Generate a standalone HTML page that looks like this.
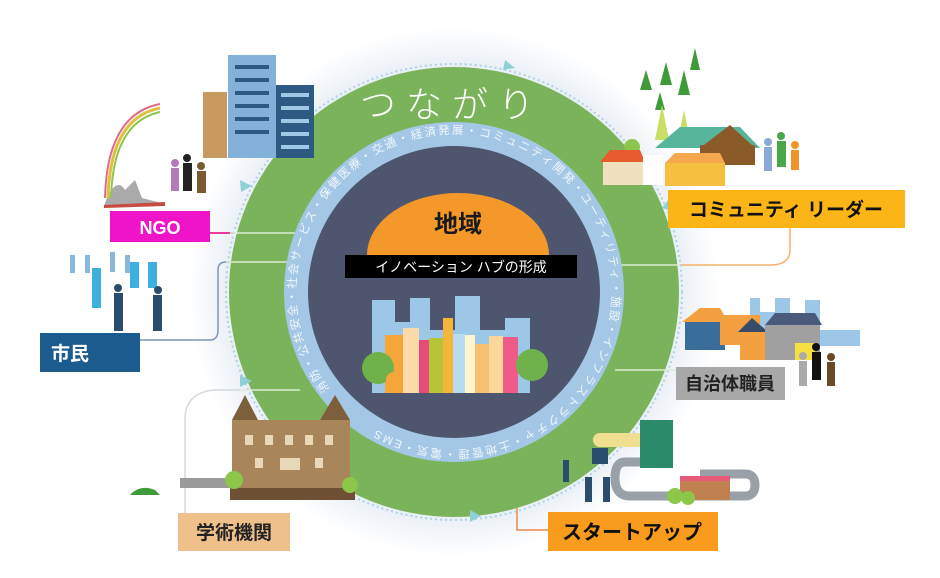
<!DOCTYPE html>
<html><head><meta charset="utf-8"><style>
html,body{margin:0;padding:0;background:#fff;}
svg{display:block;}
.jp{font-family:"Liberation Sans","Noto Sans CJK JP",sans-serif;}
</style></head><body>
<svg width="940" height="578" viewBox="0 0 940 578" xmlns="http://www.w3.org/2000/svg" class="jp">
<defs>
<radialGradient id="glow" cx="454" cy="292" r="265" gradientUnits="userSpaceOnUse">
<stop offset="0.8" stop-color="#e3eaf3"/><stop offset="1" stop-color="#ffffff"/>
</radialGradient>
<path id="ring" d="M329.5,389.3 A158,158 0 1,1 578.5,194.7 A158,158 0 1,1 329.5,389.3" fill="none"/>
</defs>
<rect width="940" height="578" fill="#fff"/>
<circle cx="454" cy="292" r="265" fill="url(#glow)"/>
<!-- connectors -->
<g fill="none" stroke-width="1.5">
<path d="M210 233 H235" stroke="#e6007e"/>
<path d="M140 340 H210 Q218 340 218 330 V270 Q218 262 226 262 H240" stroke="#7f95b5"/>
<path d="M185 513 V420 Q185 392 215 390 H240" stroke="#d4dade"/>
<path d="M790 228 V250 Q790 265 770 265 H680" stroke="#f4b26a"/>
<path d="M517 450 V530 H548" stroke="#e98a4a"/>
</g>
<!-- green circle -->
<circle cx="454" cy="292" r="225" fill="#7bb35b"/>
<circle cx="454" cy="292" r="228" fill="none" stroke="#a9d4e4" stroke-width="2" stroke-dasharray="2 3"/>
<g stroke="#d9ecd0" stroke-width="1.5">
<line x1="230" y1="233" x2="300" y2="233"/><line x1="226" y1="262" x2="290" y2="262"/>
<line x1="240" y1="390" x2="300" y2="390"/><line x1="620" y1="265" x2="680" y2="265"/>
<line x1="615" y1="370" x2="676" y2="370"/>
</g>
<g fill="#8fd0d6">
<polygon points="240,180 252,186 241,192"/><polygon points="240,375 252,381 240,387"/>
<polygon points="505,60 515,68 503,70"/><polygon points="470,510 481,516 470,522"/>
<polygon points="668,200 676,212 662,208"/>
</g>
<text x="452" y="117" text-anchor="middle" font-size="36" fill="#fff" letter-spacing="10" font-weight="300">つながり</text>
<circle cx="454" cy="292" r="170" fill="#a3c7e5"/>
<circle cx="454" cy="292" r="146" fill="#4d566e"/>
<text font-size="11.5" fill="#f2f7fb"><textPath href="#ring" textLength="930" lengthAdjust="spacing">消防・公共安全・社会サービス・保健医療・交通・経済発展・コミュニティ開発・ユーティリティ・施設・インフラストラクチャ・土地管理・電気・EMS</textPath></text>
<!-- dome -->
<path d="M367 255 A91 62 0 0 1 549 255 Z" fill="#f4982a"/>
<text x="458" y="232" text-anchor="middle" font-size="24" font-weight="bold" fill="#1a1a1a">地域</text>
<rect x="345" y="255" width="232" height="23" fill="#000"/>
<text x="461" y="272" text-anchor="middle" font-size="14" fill="#fff">イノベーション ハブの形成</text>
<!-- city -->
<g>
<path d="M372 393 V300 H395 V322 H410 V298 H430 V330 H455 V296 H480 V330 H505 V318 H530 V393Z" fill="#9cc7e6"/>
<rect x="385" y="335" width="18" height="58" fill="#f5a53a"/><rect x="403" y="328" width="16" height="65" fill="#fcd9a8"/>
<rect x="419" y="340" width="10" height="53" fill="#e84a7a"/><rect x="429" y="338" width="14" height="55" fill="#b6c43a"/>
<rect x="443" y="318" width="10" height="75" fill="#f5b43a"/><rect x="453" y="334" width="12" height="59" fill="#b7dbef"/>
<rect x="465" y="335" width="10" height="58" fill="#fff5cc"/><rect x="475" y="344" width="14" height="49" fill="#f7c071"/>
<rect x="489" y="336" width="14" height="57" fill="#fbd89a"/><rect x="503" y="337" width="15" height="56" fill="#ef5a8a"/>
<circle cx="378" cy="368" r="16" fill="#6fb14a"/><circle cx="532" cy="365" r="16" fill="#6fb14a"/>
<circle cx="394" cy="380" r="8" fill="#f5a53a"/>
</g>
<!-- left-top buildings -->
<rect x="203" y="92" width="24" height="66" fill="#c79a5f"/>
<rect x="228" y="55" width="48" height="103" fill="#83b1d9"/>
<rect x="276" y="85" width="38" height="73" fill="#2c5a83"/>
<g fill="#2c5a83"><rect x="235" y="65" width="34" height="4"/><rect x="235" y="78" width="34" height="4"/><rect x="235" y="91" width="34" height="4"/><rect x="235" y="104" width="34" height="4"/><rect x="235" y="117" width="34" height="4"/><rect x="235" y="130" width="34" height="4"/></g>
<g fill="#9fc7e6"><rect x="281" y="93" width="28" height="4"/><rect x="281" y="106" width="28" height="4"/><rect x="281" y="119" width="28" height="4"/><rect x="281" y="132" width="28" height="4"/><rect x="281" y="145" width="28" height="4"/></g>
<!-- NGO art -->
<path d="M104 206 L108 195 Q118 178 125 190 L135 180 L142 198 L165 204 Z" fill="#aaa"/>
<path d="M104 205 L165 202 L165 206 L104 208Z" fill="#c84a40"/>
<path d="M108 198 Q110 118 160 108" fill="none" stroke="#e0c040" stroke-width="3"/>
<path d="M111 198 Q113 122 160 112" fill="none" stroke="#8cc64a" stroke-width="2"/>
<path d="M105 198 Q107 114 160 104" fill="none" stroke="#e06a8a" stroke-width="2"/>
<g fill="#b57ab8"><circle cx="175" cy="163" r="4"/><rect x="171" y="168" width="8" height="23"/></g>
<g fill="#222"><circle cx="187" cy="158" r="4"/><rect x="183" y="163" width="9" height="28"/></g>
<g fill="#7a5a30"><circle cx="201" cy="166" r="4"/><rect x="197" y="171" width="9" height="22"/></g>
<!-- NGO box -->
<rect x="110" y="211" width="100" height="31" fill="#f014c8"/>
<text x="160" y="234" text-anchor="middle" font-size="18" font-weight="bold" fill="#fff">NGO</text>
<!-- citizens -->
<g fill="#8ab8dc"><rect x="70" y="255" width="5" height="18"/><rect x="85" y="255" width="5" height="18"/><rect x="110" y="252" width="5" height="20"/><rect x="125" y="255" width="5" height="18"/></g>
<g fill="#3cb0e0"><rect x="92" y="268" width="9" height="40"/><rect x="130" y="262" width="9" height="26"/><rect x="148" y="262" width="9" height="26"/></g>
<g fill="#2a4d6e"><circle cx="118" cy="288" r="4"/><rect x="114" y="293" width="9" height="38"/><circle cx="158" cy="290" r="4"/><rect x="153" y="295" width="9" height="36"/></g>
<rect x="40" y="333" width="100" height="39" fill="#1c5b8e"/>
<text x="70" y="360" text-anchor="middle" font-size="19" font-weight="bold" fill="#fff">市民</text>
<!-- academic -->
<rect x="232" y="420" width="118" height="70" fill="#a88659"/>
<g fill="#e8d8b8"><rect x="245" y="435" width="8" height="10"/><rect x="265" y="435" width="8" height="10"/><rect x="285" y="435" width="8" height="10"/><rect x="305" y="435" width="8" height="10"/><rect x="325" y="435" width="8" height="10"/><rect x="255" y="458" width="8" height="10"/><rect x="280" y="458" width="20" height="12"/><rect x="315" y="458" width="8" height="10"/></g>
<polygon points="232,420 245,395 258,420" fill="#7d5f3c"/><polygon points="320,420 335,395 350,420" fill="#7d5f3c"/>
<rect x="230" y="488" width="125" height="12" fill="#6e5034"/>
<rect x="180" y="478" width="50" height="10" fill="#9a9a9a"/>
<path d="M130 495 Q140 484 155 490 L160 495Z" fill="#3f9a3a"/>
<circle cx="234" cy="480" r="9" fill="#8cc64a"/><circle cx="350" cy="485" r="8" fill="#8cc64a"/>
<rect x="178" y="513" width="112" height="38" fill="#f0c08a"/>
<text x="234" y="539" text-anchor="middle" font-size="19" font-weight="bold" fill="#222">学術機関</text>
<!-- community -->
<g fill="#3f9a3a"><polygon points="640,90 646,70 652,90"/><polygon points="660,85 666,62 672,85"/><polygon points="678,95 684,70 690,95"/><polygon points="690,70 695,48 700,70"/><polygon points="655,110 660,92 665,110"/></g>
<g fill="#c8de66"><polygon points="655,140 662,105 669,140"/><polygon points="678,140 684,110 690,140"/></g>
<circle cx="632" cy="147" r="8" fill="#8cc64a"/>
<polygon points="655,148 680,127 740,127 760,148" fill="#56b59a"/>
<polygon points="700,148 730,125 755,148" fill="#8a5a28"/><rect x="700" y="145" width="55" height="20" fill="#8a5a28"/>
<rect x="603" y="160" width="40" height="25" fill="#f0e0c0"/><polygon points="600,162 610,150 640,150 645,162" fill="#e85a30"/>
<rect x="643" y="155" width="20" height="30" fill="#fff"/>
<rect x="665" y="163" width="60" height="23" fill="#f5c040"/><polygon points="665,163 675,153 720,153 725,163" fill="#f5a850"/>
<g fill="#8aa8d8"><circle cx="768" cy="142" r="4"/><rect x="764" y="147" width="8" height="24"/></g>
<g fill="#4aa84a"><circle cx="781" cy="136" r="4"/><rect x="777" y="141" width="9" height="26"/></g>
<g fill="#f0952a"><circle cx="795" cy="145" r="4"/><rect x="791" y="150" width="8" height="20"/></g>
<rect x="668" y="190" width="237" height="38" fill="#fbb516"/>
<text x="786" y="216" text-anchor="middle" font-size="19" font-weight="bold" fill="#111">コミュニティ リーダー</text>
<!-- municipal -->
<path d="M750 340 V298 H760 V312 H775 V298 H790 V315 H805 V300 H820 V330 H860 V346 H750Z" fill="#9cc7e6"/>
<rect x="685" y="320" width="40" height="30" fill="#3a6e9a"/><polygon points="682,322 700,308 720,308 728,322" fill="#f5a040"/>
<rect x="720" y="315" width="40" height="30" fill="#f5a040"/>
<rect x="740" y="330" width="30" height="30" fill="#f5a040"/><polygon points="738,332 752,318 768,332" fill="#3a4a6a"/>
<rect x="765" y="325" width="55" height="35" fill="#a0a0a0"/><polygon points="765,325 775,313 815,313 822,325" fill="#4a5a7a"/>
<rect x="795" y="343" width="20" height="17" fill="#f5e040"/>
<g fill="#aaa"><circle cx="803" cy="356" r="4"/><rect x="799" y="361" width="8" height="25"/></g>
<g fill="#111"><circle cx="816" cy="347" r="4"/><rect x="812" y="352" width="9" height="28"/></g>
<g fill="#6a4a2a"><circle cx="831" cy="357" r="4"/><rect x="827" y="362" width="8" height="24"/></g>
<rect x="676" y="367" width="109" height="33" fill="#a8a8a8"/>
<text x="730" y="390" text-anchor="middle" font-size="18" font-weight="bold" fill="#222">自治体職員</text>
<!-- startup -->
<path d="M600 440 H650" stroke="#eee090" stroke-width="14" stroke-linecap="round" fill="none"/>
<path d="M640 462 H625 Q615 462 615 478 Q615 496 630 496 H745 Q755 496 755 485 Q755 474 745 474 H700" stroke="#9aa0a8" stroke-width="9" fill="none"/>
<rect x="640" y="420" width="33" height="48" fill="#2a8a6a"/>
<rect x="680" y="480" width="50" height="20" fill="#c08050"/><rect x="680" y="476" width="50" height="5" fill="#e85a7a"/>
<circle cx="675" cy="496" r="8" fill="#8cc64a"/><circle cx="688" cy="498" r="7" fill="#8cc64a"/>
<g fill="#2a4d6e"><rect x="563" y="460" width="6" height="22"/><rect x="585" y="477" width="7" height="25"/><rect x="603" y="477" width="7" height="25"/><rect x="592" y="448" width="16" height="16"/></g>
<rect x="548" y="512" width="170" height="39" fill="#f99b1c"/>
<text x="632" y="539" text-anchor="middle" font-size="20" font-weight="bold" fill="#111">スタートアップ</text>
</svg>
</body></html>
